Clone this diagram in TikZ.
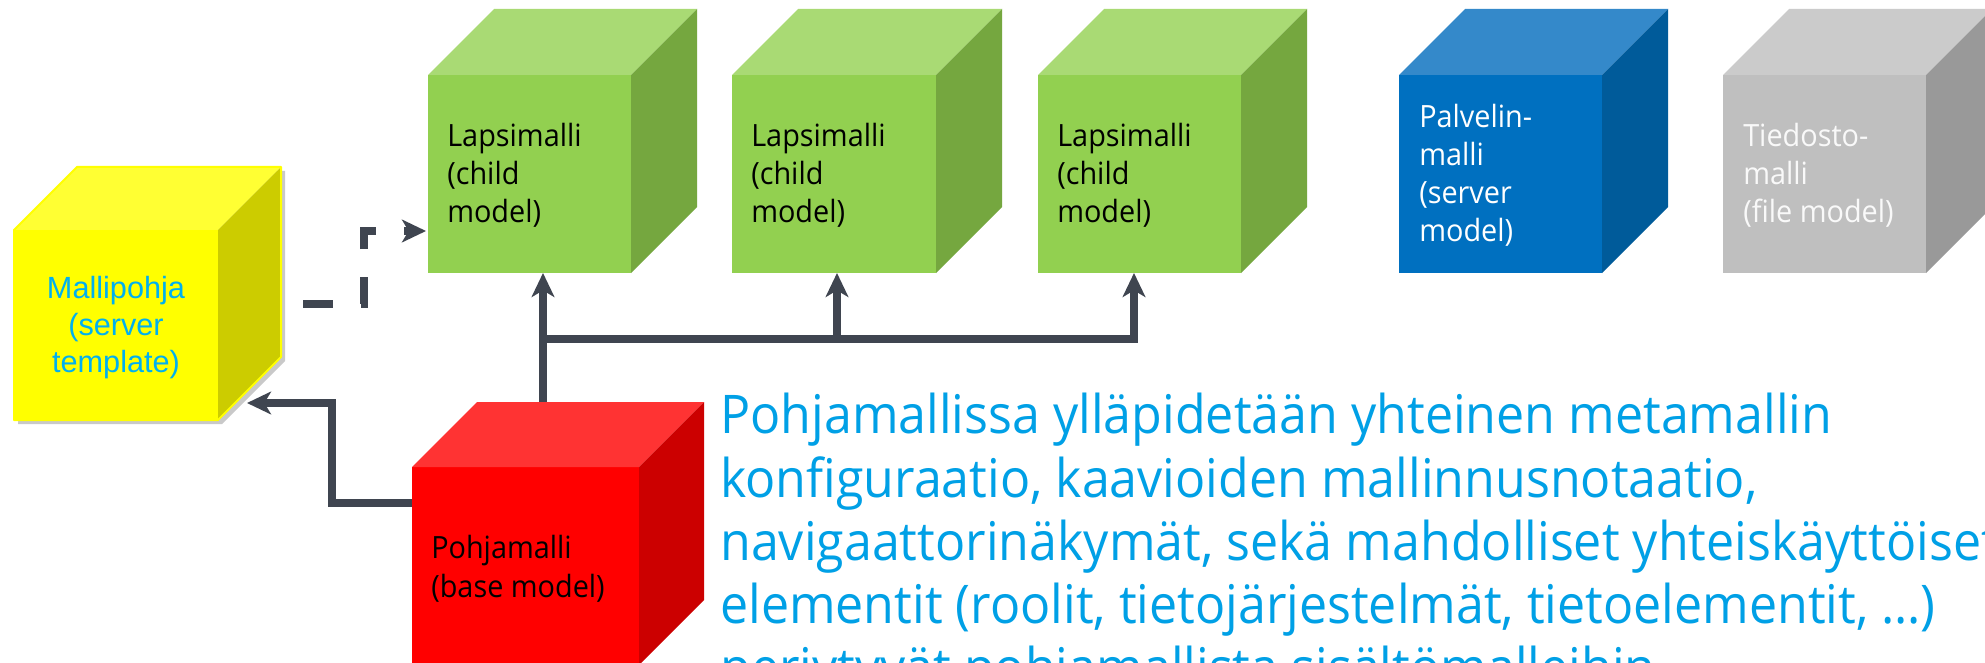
\documentclass[tikz,border=0pt]{standalone}
\usepackage{fontspec}
\usetikzlibrary{arrows.meta,calc}
\newfontfamily\segoe[FakeStretch=0.94]{Open Sans}
\newfontfamily\arialf{Liberation Sans}
\definecolor{grF}{HTML}{92D050}
\definecolor{grT}{HTML}{A9DA74}
\definecolor{grR}{HTML}{75A73F}
\definecolor{blF}{HTML}{0070C0}
\definecolor{blT}{HTML}{3489CA}
\definecolor{blR}{HTML}{005B9A}
\definecolor{gyF}{HTML}{BFBFBF}
\definecolor{gyT}{HTML}{CBCBCB}
\definecolor{gyR}{HTML}{999999}
\definecolor{rdF}{HTML}{FF0000}
\definecolor{rdT}{HTML}{FF3333}
\definecolor{rdR}{HTML}{CC0000}
\definecolor{ywF}{HTML}{FFFF00}
\definecolor{ywT}{HTML}{FFFF33}
\definecolor{ywR}{HTML}{CCCC00}
\definecolor{conncol}{HTML}{3F4550}
\definecolor{bigblue}{HTML}{00A0E6}
\definecolor{lightblue}{HTML}{00B0F0}
\newcommand{\drawcube}[7]{%
  \fill[#7F] (#2,#3) rectangle (#2+#4,#3+#5);
  \fill[#7T] (#2,#3) -- (#2+#6,#3-#6) -- (#2+#4+#6,#3-#6) -- (#2+#4,#3) -- cycle;
  \fill[#7R] (#2+#4,#3) -- (#2+#4+#6,#3-#6) -- (#2+#4+#6,#3+#5-#6) -- (#2+#4,#3+#5) -- cycle;
  \node[inner sep=0pt, minimum width={#4*0.75pt}, minimum height={#5*0.75pt}, anchor=north west] (#1) at (#2,#3) {};
}
\begin{document}
\begin{tikzpicture}[x=0.75pt,y=-0.75pt,
  conn/.style={draw=conncol, line width=6pt},
  arr/.style={-{Stealth[length=18pt,width=17pt,inset=5pt]}},
  lbl/.style={inner sep=0pt, anchor=base west, font=\segoe\fontsize{23pt}{28pt}\selectfont},
  big/.style={inner sep=0pt, anchor=base west, text=bigblue, font=\segoe\fontsize{40pt}{48pt}\selectfont},
  tpl/.style={inner sep=0pt, anchor=base, text=lightblue, font=\arialf\fontsize{23pt}{28pt}\selectfont}]
\useasboundingbox (0,0) rectangle (1985,663);
\clip (0,0) rectangle (1985,663);
\fill[white] (0,0) rectangle (1985,663);

% yellow template cube with shadow and outline
\fill[black!35, opacity=0.6] (18,234) -- (81,171) -- (285,171) -- (285,361) -- (222,424) -- (18,424) -- cycle;
\drawcube{tmpl}{14}{230}{204}{190}{63}{yw}
\draw[ywF, line width=1.5pt, line join=round] (14,230) -- (77,167) -- (281,167) -- (281,357) -- (218,420) -- (14,420) -- cycle;

% child, server, file cubes
\drawcube{g1}{428}{75}{203}{198}{66}{gr}
\drawcube{g2}{732}{75}{204}{198}{66}{gr}
\drawcube{g3}{1038}{75}{203}{198}{66}{gr}
\drawcube{srv}{1399}{75}{203}{198}{66}{bl}
\drawcube{fil}{1723}{75}{203}{198}{66}{gy}
% base cube
\drawcube{base}{412}{467}{227}{198}{65}{rd}

% labels
\node[tpl] (t1) at (116,298) {Mallipohja};
\node[tpl] (t2) at (116,335) {(server};
\node[tpl] (t3) at (116,372) {template)};

\node[lbl] (a1) at (447,147) {Lapsimalli};
\node[lbl] (a2) at (447,185) {(child};
\node[lbl] (a3) at (447,223) {model)};
\node[lbl] (b1) at (751,147) {Lapsimalli};
\node[lbl] (b2) at (751,185) {(child};
\node[lbl] (b3) at (751,223) {model)};
\node[lbl] (c1) at (1057,147) {Lapsimalli};
\node[lbl] (c2) at (1057,185) {(child};
\node[lbl] (c3) at (1057,223) {model)};

\node[lbl, text=white] (s1) at (1419,128) {Palvelin-};
\node[lbl, text=white] (s2) at (1419,166) {malli};
\node[lbl, text=white] (s3) at (1419,204) {(server};
\node[lbl, text=white] (s4) at (1419,242) {model)};

\node[lbl, text=white!95!gray] (f1) at (1743,147) {Tiedosto-};
\node[lbl, text=white!95!gray] (f2) at (1743,185) {malli};
\node[lbl, text=white!95!gray] (f3) at (1743,223) {(file model)};

\node[lbl] (p1) at (431,558) {Pohjamalli};
\node[lbl] (p2) at (431,597) {(base model)};

\node[big] (L1) at (720,433) {Pohjamallissa ylläpidetään yhteinen metamallin};
\node[big] (L2) at (720,497) {konfiguraatio, kaavioiden mallinnusnotaatio,};
\node[big] (L3) at (720,560) {navigaattorinäkymät, sekä mahdolliset yhteiskäyttöiset};
\node[big] (L4) at (720,623) {elementit (roolit, tietojärjestelmät, tietoelementit, …)};
\node[big] (L5) at (720,686) {periytyvät pohjamallista sisältömalleihin};

% connectors
\coordinate (btop) at (543,402);
\coordinate (bj) at (543,339);
\coordinate (mj) at (837,339);
\coordinate (g1in) at (543,273);
\coordinate (g2in) at (837,273);
\coordinate (g3in) at (1134,273);
\draw[conn, arr] (btop) -- (g1in);
\draw[conn, arr] (bj) -| (g3in);
\draw[conn, arr] (mj) -- (g2in);

\coordinate (bl) at (412,503);
\coordinate (k1) at (332,503);
\coordinate (k2) at (332,403);
\coordinate (tin) at (247,403);
\draw[conn, arr] (bl) -- (k1) -- (k2) -- (tin);

\coordinate (ds) at (303,304);
\coordinate (dc1) at (364,304);
\coordinate (dc2) at (364,231);
\coordinate (de) at (426,231);
\draw[conn, dash pattern=on 22.5pt off 21pt, arr] (ds) -- (dc1) -- (dc2) -- (de);
\end{tikzpicture}
\end{document}
